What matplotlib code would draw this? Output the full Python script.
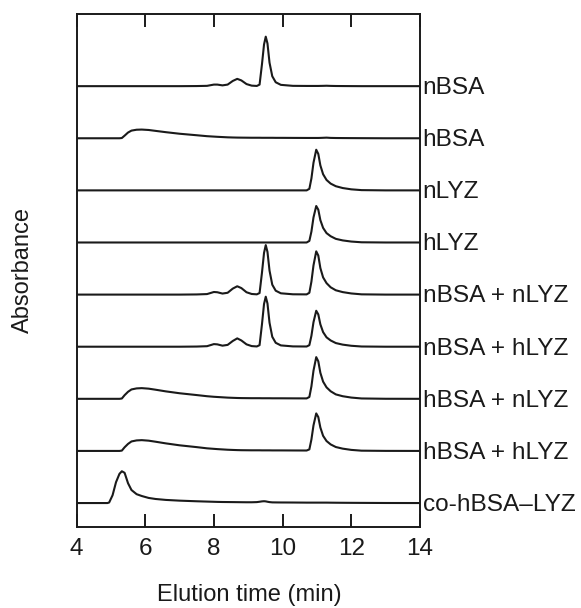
import matplotlib
matplotlib.use('Agg')
import matplotlib.pyplot as plt
import matplotlib.transforms as mtransforms

plt.rcParams['font.family'] = ['Liberation Sans', 'DejaVu Sans']

# elution time grid (min) shared by all traces
time = [4.0, 4.9, 4.95, 5.05, 5.15, 5.25, 5.32, 5.4, 5.5, 5.6,
        5.75, 5.9, 6.1, 6.3, 6.6, 7.0, 7.5, 7.8, 8.0, 8.1,
        8.25, 8.4, 8.55, 8.68, 8.8, 8.95, 9.1, 9.25, 9.33, 9.4,
        9.46, 9.51, 9.56, 9.62, 9.7, 9.8, 9.95, 10.3, 10.7, 10.78,
        10.84, 10.9, 10.98, 11.04, 11.1, 11.18, 11.28, 11.4, 11.55, 11.75,
        12.0, 12.3, 13.0, 14.0]

# absorbance above each baseline (1 unit = spacing between traces)
nBSA = [0, 0, 0, 0, 0, 0, 0, 0, 0, 0,
        0, 0, 0, 0, 0, 0, 0.002, 0.006, 0.03, 0.03,
        0.015, 0.03, 0.1, 0.14, 0.11, 0.04, 0.01, 0.004, 0.03, 0.42,
        0.8, 0.95, 0.82, 0.45, 0.19, 0.075, 0.025, 0.006, 0.004, 0.004,
        0.004, 0.004, 0.004, 0.004, 0.005, 0.006, 0.008, 0.005, 0.003, 0.002,
        0.001, 0, 0, 0]
hBSA = [0, 0, 0, 0, 0, 0, 0.005, 0.05, 0.11, 0.147,
        0.164, 0.167, 0.159, 0.142, 0.117, 0.087, 0.058, 0.04, 0.032, 0.028,
        0.023, 0.018, 0.015, 0.013, 0.012, 0.011, 0.01, 0.01, 0.01, 0.009,
        0.009, 0.009, 0.009, 0.009, 0.009, 0.008, 0.008, 0.007, 0.006, 0.006,
        0.006, 0.006, 0.006, 0.006, 0.007, 0.009, 0.012, 0.007, 0.005, 0.004,
        0.003, 0.002, 0, 0]
nLYZ = [0, 0, 0, 0, 0, 0, 0, 0, 0, 0,
        0, 0, 0, 0, 0, 0, 0, 0, 0, 0,
        0, 0, 0, 0, 0, 0, 0, 0, 0, 0,
        0, 0, 0, 0, 0, 0, 0, 0, 0, 0.03,
        0.23, 0.53, 0.78, 0.7, 0.48, 0.31, 0.2, 0.13, 0.08, 0.045,
        0.02, 0.005, 0, 0]
hLYZ = [0, 0, 0, 0, 0, 0, 0, 0, 0, 0,
        0, 0, 0, 0, 0, 0, 0, 0, 0, 0,
        0, 0, 0, 0, 0, 0, 0, 0, 0, 0,
        0, 0, 0, 0, 0, 0, 0, 0, 0, 0.03,
        0.21, 0.48, 0.7, 0.63, 0.43, 0.28, 0.18, 0.12, 0.07, 0.04,
        0.018, 0.004, 0, 0]
nBSA_nLYZ = [0, 0, 0, 0, 0, 0, 0, 0, 0, 0,
             0, 0, 0, 0, 0, 0, 0.003, 0.01, 0.05, 0.045,
             0.02, 0.035, 0.115, 0.16, 0.125, 0.045, 0.012, 0.005, 0.03, 0.42,
             0.8, 0.95, 0.82, 0.46, 0.19, 0.075, 0.025, 0.006, 0.004, 0.035,
             0.25, 0.56, 0.83, 0.75, 0.51, 0.33, 0.22, 0.14, 0.083, 0.048,
             0.022, 0.005, 0, 0]
nBSA_hLYZ = [0, 0, 0, 0, 0, 0, 0, 0, 0, 0,
             0, 0, 0, 0, 0, 0, 0.003, 0.01, 0.05, 0.045,
             0.02, 0.035, 0.11, 0.16, 0.12, 0.045, 0.012, 0.005, 0.03, 0.43,
             0.82, 0.96, 0.83, 0.46, 0.19, 0.075, 0.025, 0.006, 0.004, 0.03,
             0.21, 0.47, 0.69, 0.62, 0.43, 0.28, 0.18, 0.12, 0.07, 0.04,
             0.018, 0.004, 0, 0]
hBSA_nLYZ = [0, 0, 0, 0, 0, 0, 0.006, 0.07, 0.135, 0.18,
             0.2, 0.205, 0.195, 0.175, 0.143, 0.107, 0.072, 0.05, 0.039, 0.035,
             0.029, 0.023, 0.019, 0.016, 0.014, 0.013, 0.012, 0.012, 0.012, 0.011,
             0.011, 0.011, 0.011, 0.011, 0.01, 0.01, 0.01, 0.009, 0.008, 0.035,
             0.24, 0.54, 0.8, 0.72, 0.5, 0.33, 0.22, 0.145, 0.085, 0.05,
             0.024, 0.007, 0.001, 0]
hBSA_hLYZ = [0, 0, 0, 0, 0, 0, 0.006, 0.07, 0.135, 0.182,
             0.202, 0.207, 0.197, 0.177, 0.145, 0.108, 0.073, 0.05, 0.04, 0.035,
             0.029, 0.023, 0.019, 0.016, 0.014, 0.013, 0.012, 0.012, 0.012, 0.011,
             0.011, 0.011, 0.011, 0.011, 0.01, 0.01, 0.01, 0.009, 0.008, 0.03,
             0.22, 0.49, 0.72, 0.65, 0.45, 0.29, 0.19, 0.125, 0.075, 0.044,
             0.02, 0.005, 0.001, 0]
co_hBSA_LYZ = [0, 0, 0.01, 0.15, 0.4, 0.56, 0.61, 0.58, 0.38, 0.25,
               0.17, 0.135, 0.098, 0.078, 0.06, 0.046, 0.034, 0.028, 0.024, 0.022,
               0.02, 0.019, 0.018, 0.017, 0.016, 0.015, 0.015, 0.018, 0.025, 0.032,
               0.035, 0.032, 0.025, 0.018, 0.013, 0.012, 0.011, 0.01, 0.008, 0.008,
               0.008, 0.008, 0.008, 0.008, 0.008, 0.008, 0.008, 0.007, 0.006, 0.005,
               0.004, 0.003, 0.001, 0]

traces = [nBSA, hBSA, nLYZ, hLYZ, nBSA_nLYZ, nBSA_hLYZ, hBSA_nLYZ, hBSA_hLYZ, co_hBSA_LYZ]
names = ['nBSA', 'hBSA', 'nLYZ', 'hLYZ', 'nBSA + nLYZ', 'nBSA + hLYZ',
         'hBSA + nLYZ', 'hBSA + hLYZ', 'co-hBSA\u2013LYZ']
xticks = [4, 6, 8, 10, 12, 14]

ink = '#1a1a1a'
fig = plt.figure(figsize=(5.81, 6.08), dpi=100)
ax = fig.add_axes([0.1317, 0.1332, 0.5911, 0.8438])

n = len(traces)
trans = mtransforms.blended_transform_factory(ax.transAxes, ax.transData)
for i, (tr, name) in enumerate(zip(traces, names)):
    base = n - 1 - i
    ax.plot(time, [base + v for v in tr], color=ink, lw=1.5, solid_joinstyle='round')
    ax.text(1.008, base - 0.15, name, transform=trans, ha='left', va='baseline',
            fontsize=17.6, color=ink, clip_on=False)

ax.set_xlim(4, 14)
ax.set_ylim(-0.46, n - 1 + 1.385)
ax.set_xticks(xticks)
ax.set_yticks([])
ax.tick_params(axis='x', direction='in', length=9.5, width=1.4, top=True,
               labelsize=17.5, pad=8, colors=ink)
for s in ax.spines.values():
    s.set_linewidth(1.4)
    s.set_color(ink)

fig.text(249 / 581, 1 - 595 / 608, 'Elution time (min)', ha='center', va='center',
         fontsize=17, color=ink)
fig.text(23 / 581, 1 - 270 / 608, 'Absorbance', ha='center', va='center',
         rotation=90, fontsize=17, color=ink)

fig.savefig('out.png', dpi=100)
